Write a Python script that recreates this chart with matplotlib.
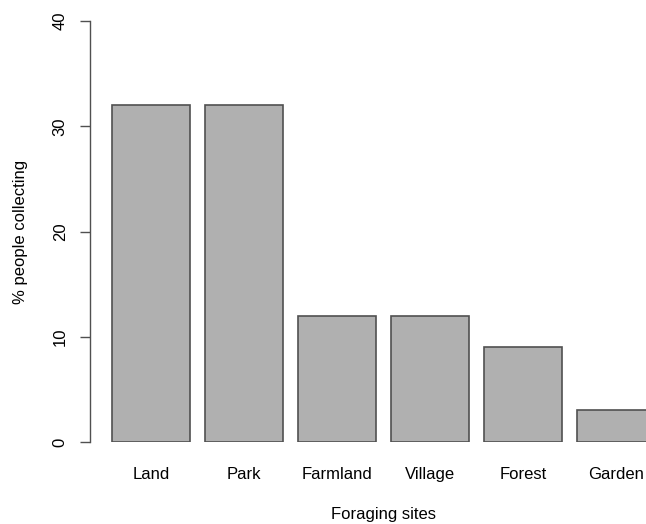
import numpy as np
import matplotlib
matplotlib.use("Agg")
import matplotlib.pyplot as plt

# data
sites = ["Land", "Park", "Farmland", "Village", "Forest", "Garden"]
percent = [32, 32, 12, 12, 9, 3]
y_ticks = [0, 10, 20, 30, 40]

plt.rcParams['font.family'] = ['Liberation Sans', 'DejaVu Sans']

W, H = 646, 524
fig = plt.figure(figsize=(W / 100, H / 100), dpi=100)

# R-style barplot geometry: width 1, space 0.2
x_pos = 0.7 + 1.2 * np.arange(len(sites))
x_min, x_max = -0.084, 7.09

ax = fig.add_axes([90 / W, (H - 442) / H, (W - 90) / W, 421 / H])
ax.bar(x_pos, percent, width=1.0, color="#b0b0b0", edgecolor="#505050", linewidth=1.2)
ax.set_xlim(x_min, x_max)
ax.set_ylim(0, 40)

for s in ["top", "right", "bottom"]:
    ax.spines[s].set_visible(False)
ax.spines["left"].set_color("#505050")
ax.spines["left"].set_linewidth(1.0)

ax.set_yticks(y_ticks)
ax.set_yticklabels([str(v) for v in y_ticks], rotation=90, va="center")
ax.tick_params(axis="y", length=7, width=1.0, color="#505050", pad=9, labelsize=12)
ax.set_xticks(x_pos)
ax.set_xticklabels(sites)
ax.tick_params(axis="x", length=0, pad=18, labelsize=12)

ax.text(-(90 - 21) / 556, 0.5, "% people collecting", transform=ax.transAxes,
        rotation=90, ha="center", va="center", fontsize=12)
ax.text((3.7 - x_min) / (x_max - x_min), -(515 - 442) / 421, "Foraging sites",
        transform=ax.transAxes, ha="center", va="center", fontsize=12)

fig.savefig("out.png", dpi=100)
